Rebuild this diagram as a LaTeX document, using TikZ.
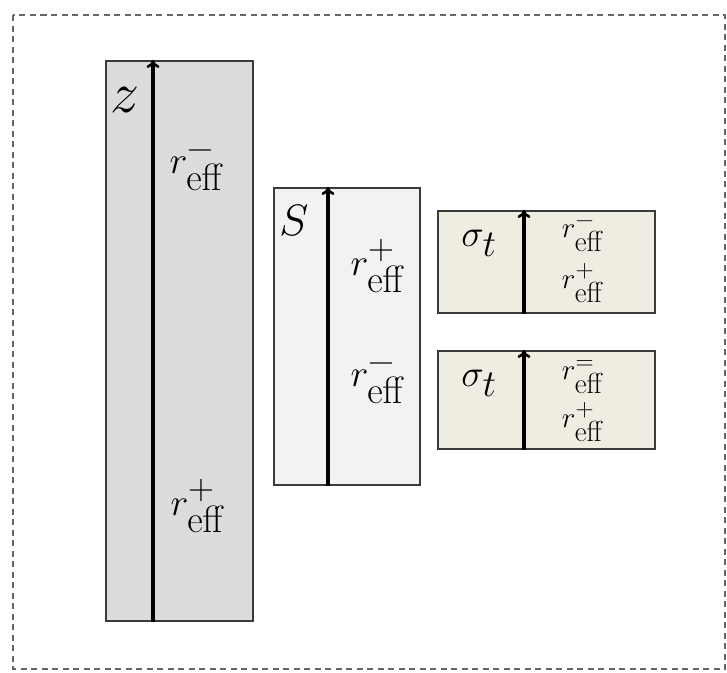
\RequirePackage{fix-cm}
\documentclass[tikz,border=0pt]{standalone}
\usepackage{amsmath}
\usetikzlibrary{arrows.meta,positioning}

\definecolor{zfill}{HTML}{DCDCDC}
\definecolor{sfill}{HTML}{F2F2F2}
\definecolor{tfill}{HTML}{EFECE2}
\definecolor{edge}{HTML}{3A3A3A}

% r_eff with a sign on top, the sign set at a size of its own
\newcommand{\reff}[2]{r^{\mbox{\fontsize{#2}{#2}\selectfont #1}}_{\textstyle\mathrm{eff}}}

\begin{document}
\begin{tikzpicture}[x=1pt, y=-1pt,
  frame/.style={draw=black!60, line width=1.4pt, dash pattern=on 6pt off 4.5pt},
  box/.style={draw=edge, line width=2pt, inner sep=0pt, anchor=north west},
  axis/.style={-{To[length=8pt, width=13pt, line width=2.6pt]}, line width=3.2pt},
  big/.style={font=\fontsize{38}{44}\selectfont, inner sep=0pt},
  small/.style={font=\fontsize{29}{34}\selectfont, inner sep=0pt}]
\useasboundingbox (0,0) rectangle (727,672);
\draw[frame] (13,15) rectangle (725,669);

% the three columns
\node[box, fill=zfill, minimum width=147pt, minimum height=560pt] (zbox) at (105,60) {};
\node[box, fill=sfill, minimum width=146pt, minimum height=297pt] (sbox) at (273,187) {};
\node[box, fill=tfill, minimum width=217pt, minimum height=102pt] (tboxA) at (437,210) {};
\node[box, fill=tfill, minimum width=217pt, minimum height=98pt] (tboxB) at (437,350) {};

\draw[axis] ([xshift=48pt]zbox.south west) -- ([xshift=48pt]zbox.north west);
\draw[axis] ([xshift=55pt]sbox.south west) -- ([xshift=55pt]sbox.north west);
\draw[axis] ([xshift=87pt]tboxA.south west) -- ([xshift=87pt]tboxA.north west);
\draw[axis] ([xshift=87pt]tboxB.south west) -- ([xshift=87pt]tboxB.north west);

\node[inner sep=0pt, font=\fontsize{58}{62}\selectfont] (zname) at (125,100) {$z$};
\node[big] (zminus) at (197,170) {$\reff{−}{36}$};
\node[big] (zplus) at (198,506) {$\reff{+}{36}$};

\node[inner sep=0pt, font=\fontsize{44}{50}\selectfont] (sname) at (294,220) {$S$};
\node[big] (splus) at (378,266) {$\reff{+}{36}$};
\node[big] (sminus) at (378,383) {$\reff{−}{36}$};

\node[big] (tnameA) at (479,243) {$\sigma_{\textstyle t}$};
\node[small] (tminusA) at (583,236) {$\reff{−}{25}$};
\node[small] (tplusA) at (583,283) {$\reff{+}{25}$};
\node[big] (tnameB) at (479,383) {$\sigma_{\textstyle t}$};
\node[small] (teqB) at (583,377) {$\reff{=}{25}$};
\node[small] (tplusB) at (583,422) {$\reff{+}{25}$};
\end{tikzpicture}
\end{document}
